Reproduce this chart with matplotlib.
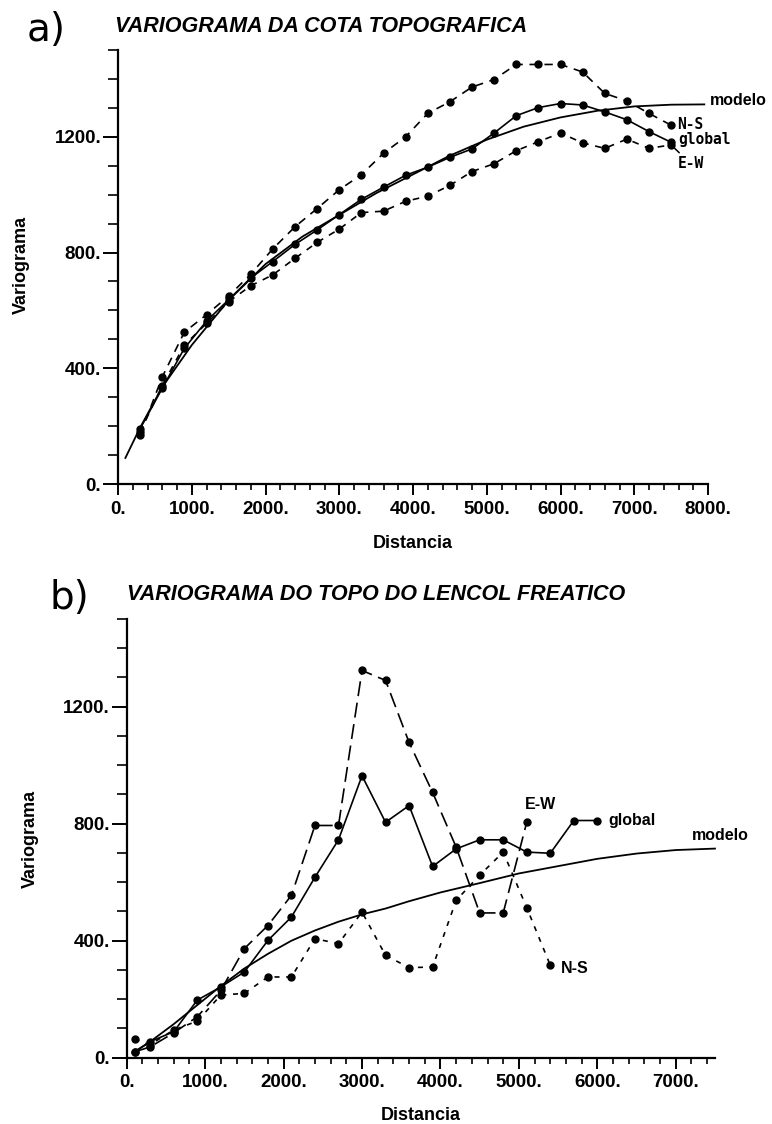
import matplotlib
matplotlib.use("Agg")
import matplotlib.pyplot as plt
from matplotlib.ticker import MultipleLocator, FuncFormatter

# ---- a) variograma da cota topografica ----
dist_a = [300, 600, 900, 1200, 1500, 1800, 2100, 2400, 2700, 3000, 3300, 3600, 3900,
          4200, 4500, 4800, 5100, 5400, 5700, 6000, 6300, 6600, 6900, 7200, 7500]
ns_a = [170, 370, 525, 585, 650, 725, 813, 889, 952, 1017, 1069, 1143, 1200,
        1281, 1321, 1372, 1398, 1450, 1450, 1450, 1424, 1350, 1324, 1281, 1240]
glob_a = [191, 331, 469, 563, 637, 712, 769, 828, 878, 931, 984, 1026, 1067,
          1095, 1129, 1158, 1213, 1273, 1301, 1315, 1310, 1286, 1259, 1218, 1181]
ew_a = [180, 340, 480, 555, 630, 685, 723, 780, 835, 881, 938, 943, 977,
        995, 1032, 1080, 1107, 1152, 1183, 1213, 1179, 1160, 1192, 1160, 1172]
model_a_x = [100, 300, 600, 1000, 1500, 2000, 2500, 3000, 3500, 4000, 4500,
             5000, 5500, 6000, 6500, 7000, 7500, 7950]
model_a_y = [90, 195, 335, 480, 635, 760, 855, 930, 1005, 1070, 1135,
             1190, 1235, 1267, 1290, 1305, 1311, 1312]

# ---- b) variograma do topo do lencol freatico ----
dist_b = [100, 300, 600, 900, 1200, 1500, 1800, 2100, 2400, 2700, 3000, 3300,
          3600, 3900, 4200, 4500, 4800, 5100, 5400, 5700, 6000]
glob_b = [20, 55, 89, 197, 242, 293, 401, 481, 617, 745, 964, 805,
          862, 654, 714, 745, 745, 703, 699, 811, 811]
ns_b = [63, 45, 95, 125, 214, 220, 276, 276, 407, 390, 498, 350,
        308, 310, 538, 624, 703, 513, 316]
ew_b = [20, 37, 85, 140, 230, 373, 452, 555, 794, 794, 1324, 1290,
        1078, 907, 720, 495, 495, 805]
model_b_x = [100, 300, 600, 900, 1200, 1500, 1800, 2100, 2400, 2700, 3000, 3300,
             3600, 4000, 4500, 5000, 5500, 6000, 6500, 7000, 7500]
model_b_y = [20, 55, 115, 180, 245, 305, 355, 400, 435, 465, 490, 510,
             535, 565, 597, 630, 655, 680, 698, 710, 715]

W, H = 772, 1124
fig = plt.figure(figsize=(W / 100, H / 100), dpi=100)

SANS = "Liberation Sans"
tick_font = dict(family=SANS, weight="bold", size=13.5)


def style_axis(ax, xmax):
    ax.set_xlim(0, xmax)
    ax.set_ylim(0, 1500)
    ax.spines["top"].set_visible(False)
    ax.spines["right"].set_visible(False)
    for s in ["left", "bottom"]:
        ax.spines[s].set_linewidth(1.6)
    ax.xaxis.set_major_locator(MultipleLocator(1000))
    ax.xaxis.set_minor_locator(MultipleLocator(200))
    ax.yaxis.set_major_locator(MultipleLocator(400))
    ax.yaxis.set_minor_locator(MultipleLocator(100))
    fmt = FuncFormatter(lambda v, p: f"{v:.0f}.")
    ax.xaxis.set_major_formatter(fmt)
    ax.yaxis.set_major_formatter(fmt)
    ax.tick_params(axis="x", which="major", length=8, width=1.4, pad=4)
    ax.tick_params(axis="x", which="minor", length=4.5, width=1.2)
    ax.tick_params(axis="y", which="major", length=11, width=1.4, pad=1)
    ax.tick_params(axis="y", which="minor", length=7, width=1.2)
    for lab in ax.get_xticklabels() + ax.get_yticklabels():
        lab.set_fontproperties(matplotlib.font_manager.FontProperties(**tick_font))


def px_axes(left, right, top, bottom):
    return fig.add_axes([left / W, 1 - bottom / H, (right - left) / W, (bottom - top) / H])


mk = dict(marker="o", ms=5, color="black", lw=1.2)

# panel a
ax1 = px_axes(118, 708, 50, 484)
ax1.plot(model_a_x, model_a_y, color="black", lw=1.3, clip_on=False)
ax1.plot(dist_a, ns_a, dashes=(5, 4), **mk)
ax1.plot(dist_a, glob_a, ls="-", **mk)
ax1.plot(dist_a, ew_a, dashes=(4, 4), **mk)
style_axis(ax1, 8000)

lab_font = dict(family="DejaVu Sans Mono", weight="bold", size=10.5)
ax1.text(8030, model_a_y[-1] + 15, "modelo", family=SANS, weight="bold", size=11.5,
         va="center", ha="left")
ax1.text(7580, 1244, "N-S", va="center", ha="left", **lab_font)
ax1.annotate("global", xy=(dist_a[-1], glob_a[-1]), xytext=(7590, 1191),
             va="center", ha="left", arrowprops=dict(arrowstyle="-", lw=1.1,
                                                     shrinkA=1, shrinkB=3), **lab_font)
ax1.annotate("E-W", xy=(dist_a[-1], ew_a[-1]), xytext=(7590, 1106),
             va="center", ha="left", arrowprops=dict(arrowstyle="-", lw=1.1,
                                                     shrinkA=1, shrinkB=3), **lab_font)

# panel b
ax2 = px_axes(126.7, 715, 619, 1057.7)
ax2.plot(model_b_x, model_b_y, color="black", lw=1.3, clip_on=False)
ax2.plot(dist_b[:len(ew_b)], ew_b, dashes=(9, 4), **mk)
ax2.plot(dist_b, glob_b, ls="-", **mk)
ax2.plot(dist_b[:len(ns_b)], ns_b, dashes=(3, 4), **mk)
style_axis(ax2, 7500)

blab = dict(family=SANS, weight="bold", size=11.5)
ax2.text(5280, 867, "E-W", va="center", ha="center", **blab)
ax2.text(6140, 811, "global", va="center", ha="left", **blab)
ax2.text(5530, 306, "N-S", va="center", ha="left", **blab)
ax2.text(7210, 735, "modelo", va="bottom", ha="left", **blab)

# titles, panel letters and axis labels
title_font = dict(family=SANS, weight="bold", style="italic", size=15.5)
fig.text(115 / W, 1 - 27 / H, "VARIOGRAMA DA COTA TOPOGRAFICA", va="center", ha="left",
         **title_font)
fig.text(127 / W, 1 - 595 / H, "VARIOGRAMA DO TOPO DO LENCOL FREATICO", va="center",
         ha="left", **title_font)
fig.text(27 / W, 1 - 30 / H, "a)", family="DejaVu Sans", size=28, va="center", ha="left")
fig.text(50 / W, 1 - 598 / H, "b)", family="DejaVu Sans", size=28, va="center", ha="left")

lbl = dict(family=SANS, weight="bold", size=13)
fig.text(21 / W, 1 - 265 / H, "Variograma", rotation=90, va="center", ha="center", **lbl)
fig.text(30 / W, 1 - 839 / H, "Variograma", rotation=90, va="center", ha="center", **lbl)
fig.text(413 / W, 1 - 543 / H, "Distancia", va="center", ha="center", **lbl)
fig.text(421 / W, 1 - 1115 / H, "Distancia", va="center", ha="center", **lbl)

fig.savefig("out.png", dpi=100)
